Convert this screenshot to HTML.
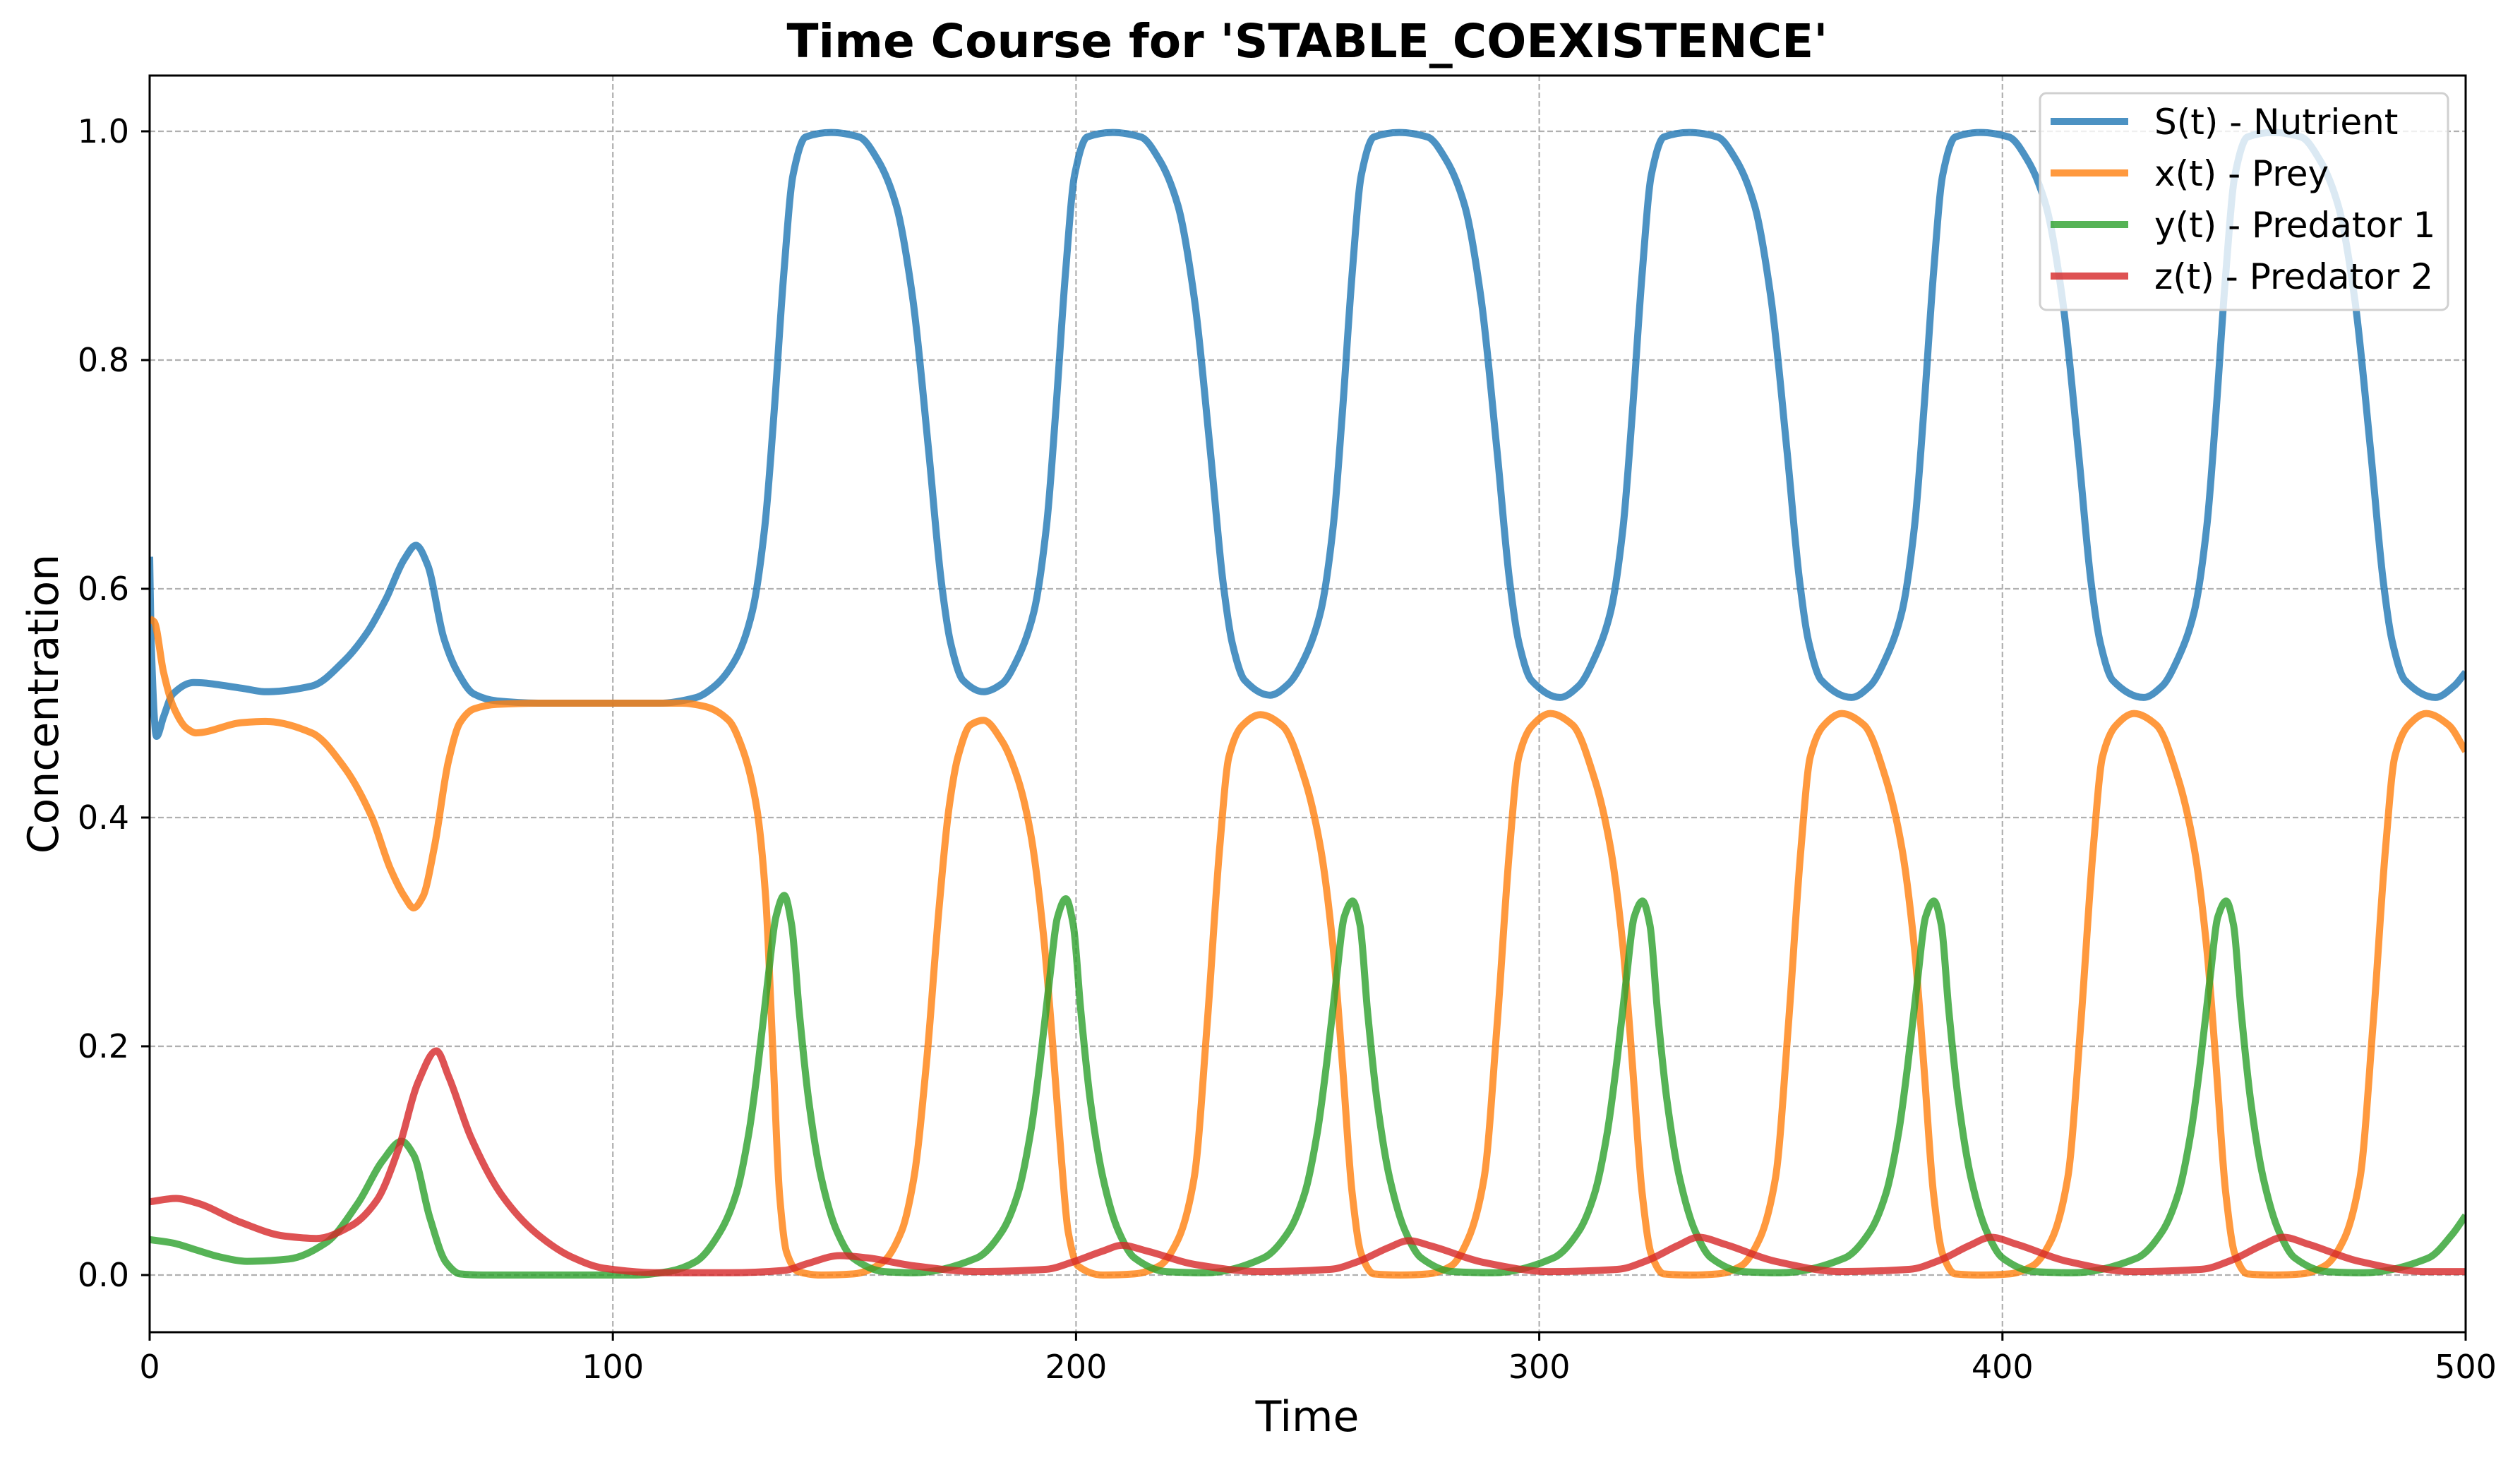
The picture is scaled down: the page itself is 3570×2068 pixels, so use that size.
<!DOCTYPE html>
<html><head><meta charset="utf-8"><title>Time Course</title>
<style>
html,body{margin:0;padding:0;background:#fff;}
svg{display:block;font-family:"DejaVu Sans","Liberation Sans",sans-serif;}
</style></head>
<body>
<svg id="chart" width="3570" height="2068" viewBox="0 0 3570 2068" xmlns="http://www.w3.org/2000/svg">
<rect width="3570" height="2068" fill="#fff"/>
<g id="grid"></g>
<g id="series"></g>
<rect x="212" y="107" width="3281" height="1780" fill="none" stroke="#000" stroke-width="3"/>
<g id="ticks"></g>
<text x="1852" y="81" text-anchor="middle" font-size="66" font-weight="bold">Time Course for 'STABLE_COEXISTENCE'</text>
<text x="1852" y="2027" text-anchor="middle" font-size="60">Time</text>
<text transform="translate(82,997) rotate(-90)" text-anchor="middle" font-size="60">Concentration</text>
<g id="legend">
<rect x="2890" y="132" width="578" height="307" rx="9" fill="#fff" fill-opacity="0.8" stroke="#d0d0d0" stroke-width="3"/>
</g>
</svg>
<script>
const xTicks = [0, 100, 200, 300, 400, 500];
const yTicks = [0.0, 0.2, 0.4, 0.6, 0.8, 1.0];
const yTickLabels = ["0.0", "0.2", "0.4", "0.6", "0.8", "1.0"];
const seriesNames = ["S(t) - Nutrient", "x(t) - Prey", "y(t) - Predator 1", "z(t) - Predator 2"];
const seriesColors = ["#1f77b4", "#ff7f0e", "#2ca02c", "#d62728"];

const nutrientS = [[0,.628],[0.3,.557],[1.5,.471],[3,.488],[5,.508],[9.5,.518],[20,.513],[25,.51],[35,.515],[42,.537],[47,.562],[51,.591],[55,.626],[57.5,.638],[60,.621],[63.5,.557],[66.5,.527],[70,.508],[75,.502],[85,.5],[110,.5],[118,.505],[122,.515],
[126.7,.54],[130.1,.58],[132.8,.654],[134.8,.754],[136.9,.875],[138.9,.962],[141.6,.995],[147.1,.999],[153.2,.995],[157.2,.975],[161.2,.935],[164.7,.855],[168.2,.72],[170.9,.607],[172.9,.553],[175.6,.52],
[180,.51],[184,.517],[187.5,.54],[190.9,.58],[193.6,.654],[195.6,.754],[197.7,.875],[199.7,.962],[202.4,.995],[207.9,.999],[214,.995],[218,.975],[222,.935],[225.5,.855],[229,.72],[231.7,.607],[233.7,.553],[236.4,.52],
[241.9,.507],[245.9,.517],[249.4,.54],[252.8,.58],[255.5,.654],[257.5,.754],[259.6,.875],[261.6,.962],[264.3,.995],[269.8,.999],[275.9,.995],[279.9,.975],[283.9,.935],[287.4,.855],[290.9,.72],[293.6,.607],[295.6,.553],[298.3,.52],
[304.5,.505],[308.5,.515],[312,.54],[315.4,.58],[318.1,.654],[320.1,.754],[322.2,.875],[324.2,.962],[326.9,.995],[332.4,.999],[338.5,.995],[342.5,.975],[346.5,.935],[350,.855],[353.5,.72],[356.2,.607],[358.2,.553],[360.9,.52],
[367.4,.505],[371.4,.515],[374.9,.54],[378.3,.58],[381,.654],[383,.754],[385.1,.875],[387.1,.962],[389.8,.995],[395.3,.999],[401.4,.995],[405.4,.975],[409.4,.935],[412.9,.855],[416.4,.72],[419.1,.607],[421.1,.553],[423.8,.52],
[430.5,.505],[434.5,.515],[438,.54],[441.4,.58],[444.1,.654],[446.1,.754],[448.2,.875],[450.2,.962],[452.9,.995],[458.4,.999],[464.5,.995],[468.5,.975],[472.5,.935],[476,.855],[479.5,.72],[482.2,.607],[484.2,.553],[486.9,.52],
[493.5,.505],[497.5,.515],[500,.527]];

const preyX = [[0,.574],[1,.571],[3,.527],[5,.498],[8,.478],[10,.474],[20,.483],[25,.484],[35,.474],[42,.444],[48,.4],[52,.355],[55,.331],[57,.321],[59,.331],[61.5,.375],[64.5,.449],[67,.483],[70,.495],[75,.499],[85,.5],[115,.5],[120,.497],[125,.485],[128,.46],[131,.41],[133,.33],[134.5,.2],[136,.07],[137.5,.02],[140,.003],[145,0],[152,.001],
[158.2,.011],[162.3,.038],[165,.085],[167.7,.185],[170.4,.32],[172.5,.406],[174.5,.453],[177.2,.481],[180,.485],[184,.467],[187.5,.433],[190.2,.386],[192.9,.3],[194.9,.205],[196.9,.098],[198.3,.038],[200.4,.008],[205.8,0],[212.6,.001],[218,.008],
[222,.031],[225.5,.085],[228.3,.219],[231,.373],[233,.453],[235.8,.48],[239.8,.49],[244.6,.48],[249.4,.433],[252.8,.373],[255.5,.286],[257.5,.185],[259.6,.072],[261.6,.018],[264.3,.001],[270,0],[276,.001],[281,.008],
[284.6,.031],[288.1,.085],[290.9,.219],[293.6,.373],[295.6,.453],[298.4,.48],[302.4,.491],[307.2,.481],[312,.433],[315.4,.373],[318.1,.286],[320.1,.185],[322.2,.072],[324.2,.018],[326.9,.001],[332.6,0],[338.6,.001],[343.6,.008],
[347.5,.031],[351,.085],[353.8,.219],[356.5,.373],[358.5,.453],[361.3,.48],[365.3,.491],[370.1,.481],[374.9,.433],[378.3,.373],[381,.286],[383,.185],[385.1,.072],[387.1,.018],[389.8,.001],[395.5,0],[401.5,.001],[406.5,.008],
[410.6,.031],[414.1,.085],[416.9,.219],[419.6,.373],[421.6,.453],[424.4,.48],[428.4,.491],[433.2,.481],[438,.433],[441.4,.373],[444.1,.286],[446.1,.185],[448.2,.072],[450.2,.018],[452.9,.001],[458.6,0],[464.6,.001],[469.6,.008],
[473.7,.031],[477.2,.085],[480,.219],[482.7,.373],[484.7,.453],[487.5,.48],[491.5,.491],[496.3,.481],[500,.458]];

const predatorY = [[0,.031],[5,.028],[10,.022],[15,.016],[21,.012],[30,.014],[38,.028],[45,.063],[50.3,.1],[54.4,.117],[57,.105],[60.5,.05],[64,.011],[67,.001],[72,0],[105,0],[112,.003],[118,.012],
[123.2,.038],[126.7,.072],[129.4,.125],[131.4,.185],[133.5,.259],[135.2,.313],[137,.332],[138.6,.306],[140.2,.232],[142.3,.152],[145,.085],[148.4,.038],[151.8,.015],[158.6,.003],[165,.002],
[178.6,.015],[184,.038],[187.5,.072],[190.2,.125],[192.2,.185],[194.3,.259],[196,.313],[197.8,.329],[199.4,.306],[201,.232],[203.1,.152],[205.8,.085],[209.2,.038],[212.6,.015],[219.4,.003],[228,.002],
[240.5,.015],[245.9,.038],[249.4,.072],[252.1,.125],[254.1,.185],[256.2,.259],[257.9,.313],[259.7,.327],[261.3,.306],[262.9,.232],[265,.152],[267.7,.085],[271.1,.038],[274.5,.015],[281.3,.003],[290,.002],
[303.1,.015],[308.5,.038],[312,.072],[314.7,.125],[316.7,.185],[318.8,.259],[320.5,.313],[322.3,.327],[323.9,.306],[325.5,.232],[327.6,.152],[330.3,.085],[333.7,.038],[337.1,.015],[343.9,.003],[352,.002],
[366,.015],[371.4,.038],[374.9,.072],[377.6,.125],[379.6,.185],[381.7,.259],[383.4,.313],[385.2,.327],[386.8,.306],[388.4,.232],[390.5,.152],[393.2,.085],[396.6,.038],[400,.015],[406.8,.003],[415,.002],
[429.1,.015],[434.5,.038],[438,.072],[440.7,.125],[442.7,.185],[444.8,.259],[446.5,.313],[448.3,.327],[449.9,.306],[451.5,.232],[453.6,.152],[456.3,.085],[459.7,.038],[463.1,.015],[469.9,.003],[478,.002],
[492,.015],[497,.035],[500,.052]];

const predatorZ = [[0,.064],[5.7,.067],[10.2,.063],[19.7,.046],[29.2,.034],[36,.032],[43.5,.043],[49,.065],[53.7,.11],[58,.169],[61.9,.196],[64.6,.173],[69.4,.12],[76,.07],[83.6,.036],[91,.016],[98,.006],[110,.002],[125,.002],[137,.004],[142,.01],[149,.017],[155,.015],[165,.008],[178.6,.003],[193.6,.005],[199,.011],[205.8,.021],[209.9,.026],[215.3,.021],[226,.009],[239.8,.003],[255,.005],[261,.012],[267.5,.024],[271.8,.03],[277,.025],[288,.011],[302,.003],[317,.005],[323.5,.013],[330,.026],[334.4,.033],[340,.027],[351,.012],[365,.003],[380,.005],[386.5,.013],[393,.026],[397.5,.033],[403,.027],[414,.012],[428,.003],[443,.005],[449.5,.013],[456,.026],[460.6,.033],[466,.027],[477,.012],[491,.003],[500,.003]];

const allSeries = [nutrientS, preyX, predatorY, predatorZ];

const NS = "http://www.w3.org/2000/svg";
const L = 212, R = 3493, T = 107, B = 1887;
const xMin = 0, xMax = 500, yMin = -0.05, yMax = 1.05;
function xs(v){ return L + (v - xMin) / (xMax - xMin) * (R - L); }
function ys(v){ return 1806 - v * 1620; }

function mk(tag, attrs, parent){
  const e = document.createElementNS(NS, tag);
  for (const k in attrs) e.setAttribute(k, attrs[k]);
  parent.appendChild(e);
  return e;
}

const grid = document.getElementById("grid");
const ticks = document.getElementById("ticks");
xTicks.forEach((t, i) => {
  const x = xs(t);
  const g = mk("line", {x1:x, x2:x, y1:T, y2:B, stroke:"#b0b0b0", "stroke-width":2.2, "stroke-dasharray":"8,4"}, grid);
  
  
  const tk = mk("line", {x1:x, x2:x, y1:B, y2:B+12, stroke:"#000", "stroke-width":3}, ticks);
  
  
  const lb = mk("text", {x:x, y:1952, "text-anchor":"middle", "font-size":46}, ticks);
  lb.textContent = String(t);
  
  
});
yTicks.forEach((v, i) => {
  const y = ys(v);
  const g = mk("line", {x1:L, x2:R, y1:y, y2:y, stroke:"#b0b0b0", "stroke-width":2.2, "stroke-dasharray":"8,4"}, grid);
  
  
  const tk = mk("line", {x1:L-12, x2:L, y1:y, y2:y, stroke:"#000", "stroke-width":3}, ticks);
  
  
  const lb = mk("text", {x:183, y:y+16, "text-anchor":"end", "font-size":46}, ticks);
  lb.textContent = yTickLabels[i];
  
  
});

function monotonePath(pts){
  const n = pts.length;
  const X = pts.map(p => xs(p[0])), Y = pts.map(p => ys(p[1]));
  const d = [], m = new Array(n);
  for (let i = 0; i < n-1; i++) d.push((Y[i+1]-Y[i]) / (X[i+1]-X[i]));
  m[0] = d[0]; m[n-1] = d[n-2];
  for (let i = 1; i < n-1; i++){
    if (d[i-1]*d[i] <= 0) m[i] = 0;
    else { const h0 = X[i]-X[i-1], h1 = X[i+1]-X[i];
      m[i] = 3*(h0+h1) / ((2*h1+h0)/d[i-1] + (h1+2*h0)/d[i]); }
  }
  let s = "M" + X[0].toFixed(1) + "," + Y[0].toFixed(1);
  for (let i = 0; i < n-1; i++){
    const h = (X[i+1]-X[i]) / 3;
    s += "C" + (X[i]+h).toFixed(1) + "," + (Y[i]+m[i]*h).toFixed(1) + " " + (X[i+1]-h).toFixed(1) + "," + (Y[i+1]-m[i+1]*h).toFixed(1) + " " + X[i+1].toFixed(1) + "," + Y[i+1].toFixed(1);
  }
  return s;
}

const sg = document.getElementById("series");
const lineNames = ["line-nutrient", "line-prey", "line-predator-1", "line-predator-2"];
allSeries.forEach((pts, k) => {
  const p = mk("path", {d: monotonePath(pts), fill:"none", stroke:seriesColors[k], "stroke-opacity":0.8, "stroke-width":10, "stroke-linejoin":"round", "stroke-linecap":"butt", "clip-path":"url(#clip)"}, sg);
  
  
});
const defs = mk("defs", {}, document.getElementById("chart"));
const cp = mk("clipPath", {id:"clip"}, defs);
mk("rect", {x:L, y:T, width:R-L, height:B-T}, cp);

const lg = document.getElementById("legend");
seriesNames.forEach((nm, k) => {
  const y = 172 + k*73;
  const ln = mk("line", {x1:2905, x2:3015, y1:y, y2:y, stroke:seriesColors[k], "stroke-opacity":0.8, "stroke-width":10}, lg);
  
  
  const tx = mk("text", {x:3052, y:y+18, "font-size":50}, lg);
  tx.textContent = nm;
  
  
});
</script>
</body></html>
